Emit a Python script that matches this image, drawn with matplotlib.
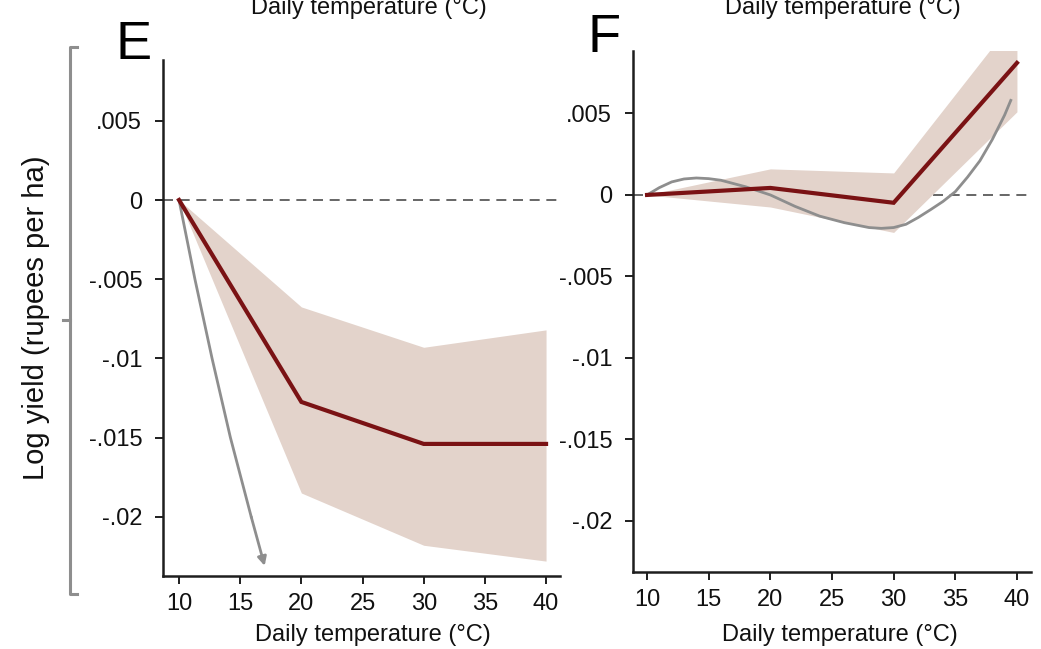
"""
Two-panel temperature response plot (panels E and F)
"""
import matplotlib
matplotlib.use("Agg")
import matplotlib.pyplot as plt
from matplotlib.lines import Line2D

plt.rcParams["font.family"] = ["Liberation Sans", "DejaVu Sans"]

# ── data ──────────────────────────────────────────────────
temp_knots = [10, 20, 30, 40]

e_est = [0.0, -0.01275, -0.0154, -0.0154]
e_upper = [0.0, -0.00675, -0.0093, -0.0082]
e_lower = [0.0, -0.0185, -0.0218, -0.0228]
e_gray_x = [10, 11.3, 12.7, 14.2, 15.9, 17.0]
e_gray_y = [0.0, -0.005, -0.010, -0.015, -0.020, -0.0231]

f_est = [0.0, 0.00043, -0.00048, 0.0081]
f_upper = [0.0, 0.0016, 0.00135, 0.0110]
f_lower = [0.0, -0.00074, -0.0023, 0.0051]
f_gray_x = [10, 11, 12, 13, 14, 15, 16, 18, 20, 22, 24, 26, 28, 29, 30, 31,
            32, 33, 34, 35, 36, 37, 38, 39, 39.5]
f_gray_y = [0.0, 0.00045, 0.0008, 0.00098, 0.00104, 0.001, 0.0009, 0.0005,
            0.0, -0.0007, -0.0013, -0.0017, -0.002, -0.00205, -0.002,
            -0.0018, -0.00138, -0.0009, -0.0004, 0.0002, 0.0011, 0.0021,
            0.0034, 0.0049, 0.0058]

x_ticks = [10, 15, 20, 25, 30, 35, 40]
y_ticks = [0.005, 0.0, -0.005, -0.01, -0.015, -0.02]
y_tick_labels = [".005", "0", "-.005", "-.01", "-.015", "-.02"]

# ── style ─────────────────────────────────────────────────
RED = "#7a1214"
BAND = "#e3d3cb"
GRAY = "#8e8e8e"
AXIS = "#1e1e1e"
W, H = 1041, 649


def px_box(left, top, right, bottom):
    return [left / W, 1 - bottom / H, (right - left) / W, (bottom - top) / H]


def style_axes(ax, xlim, ylim):
    ax.set_xlim(*xlim)
    ax.set_ylim(*ylim)
    for side in ("top", "right"):
        ax.spines[side].set_visible(False)
    for side in ("left", "bottom"):
        ax.spines[side].set_color(AXIS)
        ax.spines[side].set_linewidth(1.8)
    ax.set_xticks(x_ticks)
    ax.set_yticks(y_ticks)
    ax.set_yticklabels(y_tick_labels)
    ax.tick_params(axis="both", direction="out", length=6, width=1.4,
                   colors=AXIS, labelsize=17, labelcolor="#111111")
    ax.tick_params(axis="x", pad=6)
    ax.tick_params(axis="y", pad=9)
    ax.axhline(0, color="#4d4d4d", lw=1.2, dashes=(6, 4), zorder=1)


fig = plt.figure(figsize=(W / 100, H / 100), dpi=100, facecolor="white")

# ── panel E ───────────────────────────────────────────────
ax_e = fig.add_axes(px_box(163, 60, 560, 576))
style_axes(ax_e, (8.69, 41.14), (-0.02374, 0.00884))
ax_e.fill_between(temp_knots, e_lower, e_upper, color=BAND, lw=0, zorder=2)
ax_e.plot(temp_knots, e_est, color=RED, lw=3.0, zorder=4,
          solid_joinstyle="miter")
ax_e.plot(e_gray_x[:-1], e_gray_y[:-1], color=GRAY, lw=2.0, zorder=3)
ax_e.annotate("", xy=(e_gray_x[-1], e_gray_y[-1]),
              xytext=(e_gray_x[-2], e_gray_y[-2]),
              arrowprops=dict(arrowstyle="-|>", color=GRAY, lw=2.0,
                              mutation_scale=13, shrinkA=0, shrinkB=0),
              zorder=3)

# ── panel F ───────────────────────────────────────────────
ax_f = fig.add_axes(px_box(633, 51, 1031, 572))
style_axes(ax_f, (8.86, 41.14), (-0.02313, 0.00883))
ax_f.fill_between(temp_knots, f_lower, f_upper, color=BAND, lw=0, zorder=2)
ax_f.plot(f_gray_x, f_gray_y, color=GRAY, lw=2.0, zorder=3)
ax_f.plot(temp_knots, f_est, color=RED, lw=3.0, zorder=4,
          solid_joinstyle="miter")

# ── labels ────────────────────────────────────────────────
for cx in (373, 840):
    fig.text(cx / W, 1 - 641 / H, "Daily temperature (°C)", ha="center",
             va="baseline", fontsize=17, color="#111111")
# axis titles of the panels above, cut off by the top edge as in the source
for cx in (369, 843):
    fig.text(cx / W, 1 - 14 / H, "Daily temperature (°C)", ha="center",
             va="baseline", fontsize=17, color="#111111")

fig.text(115 / W, 1 - 59 / H, "E", fontsize=39, va="baseline", ha="left")
fig.text(587 / W, 1 - 52 / H, "F", fontsize=39, va="baseline", ha="left")

fig.text(36 / W, 1 - 318 / H, "Log yield (rupees per ha)", rotation=90,
         ha="center", va="center", fontsize=21, color="#111111")

# bracket spanning both rows
bx, btop, bbot, bmid = 70, 47, 594, 320
fig.add_artist(Line2D([(bx + 7) / W, bx / W, bx / W, (bx + 7) / W],
                      [1 - btop / H, 1 - btop / H, 1 - bbot / H, 1 - bbot / H],
                      color=GRAY, lw=2.2, transform=fig.transFigure))
fig.add_artist(Line2D([bx / W, (bx - 7) / W], [1 - bmid / H, 1 - bmid / H],
                      color=GRAY, lw=2.2, transform=fig.transFigure))

fig.savefig("out.png", dpi=100, facecolor=fig.get_facecolor())
plt.close(fig)
